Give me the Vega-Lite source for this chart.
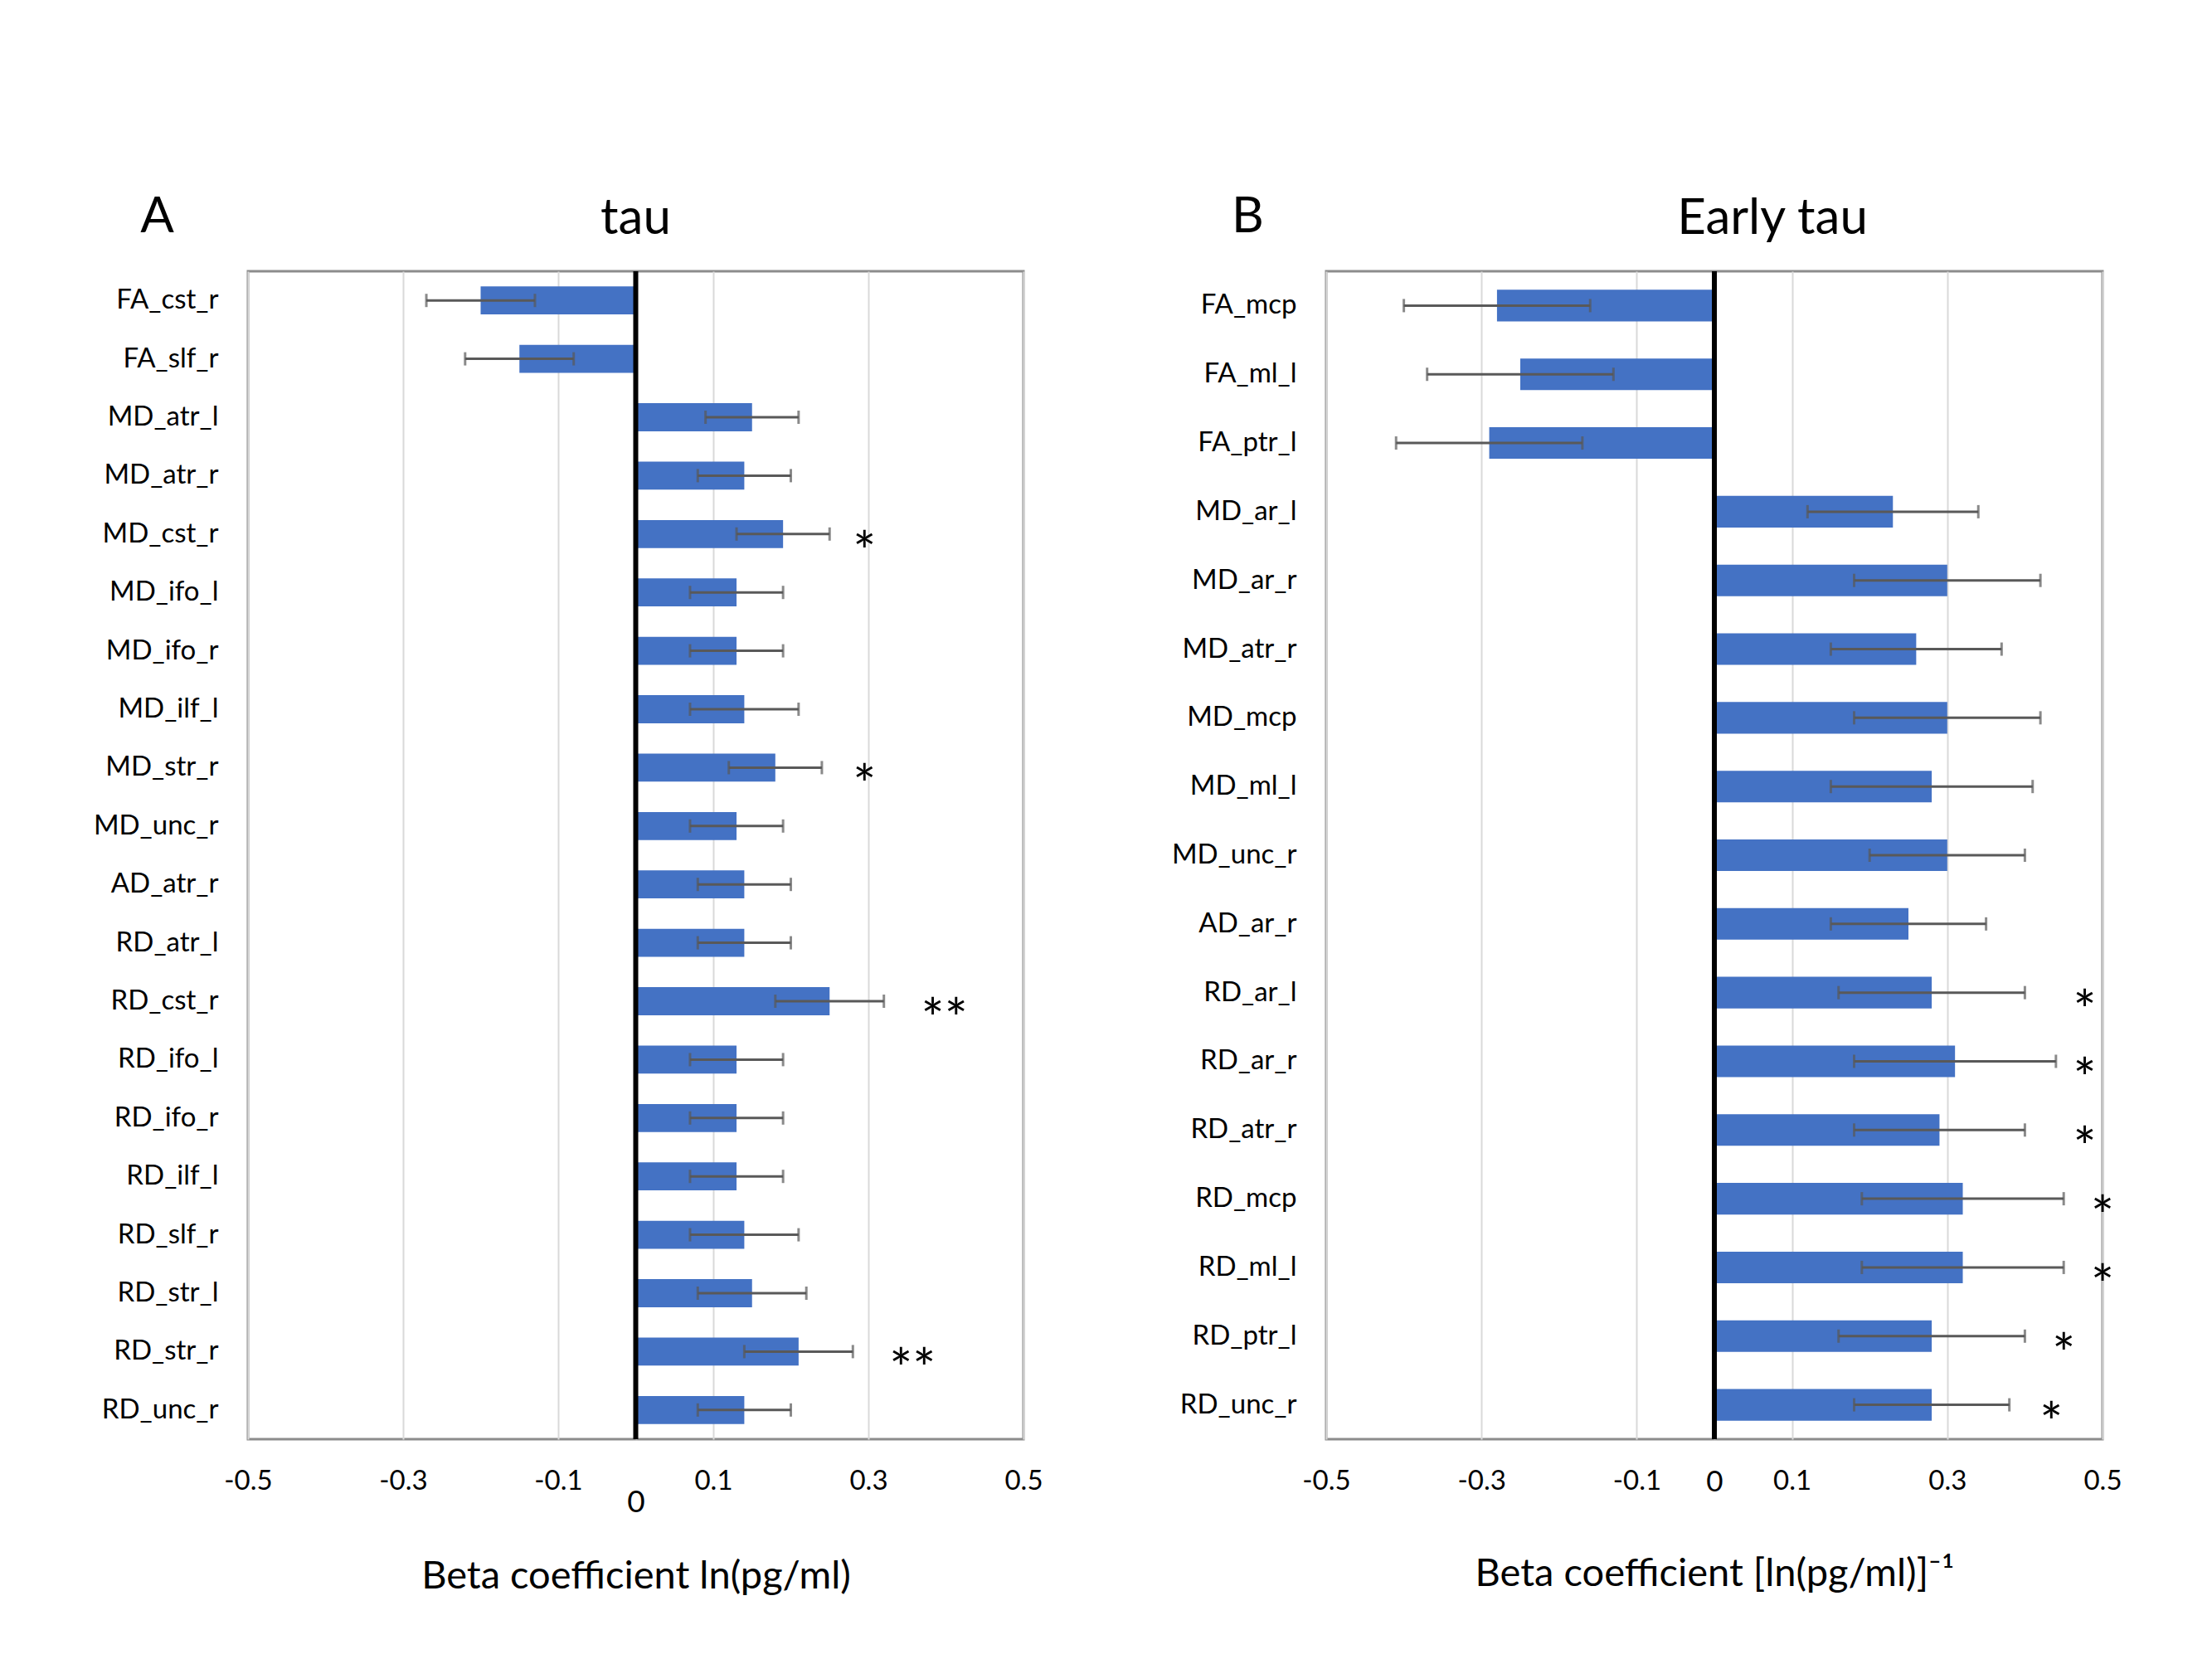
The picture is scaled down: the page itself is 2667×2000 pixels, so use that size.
{
  "$schema": "https://vega.github.io/schema/vega-lite/v6.json",
  "background": "white",
  "padding": {"left": 110, "top": 229, "right": 80, "bottom": 40},
  "config": {
    "font": "Lato",
    "view": {"stroke": "#8C8C8C", "strokeWidth": 3},
    "axis": {"labelFont": "Lato", "titleFont": "Lato", "labelColor": "#000000", "titleColor": "#000000", "titleFontWeight": "normal"},
    "title": {"font": "Lato", "fontSize": 60, "fontWeight": "normal", "color": "#000000"}
  },
  "datasets": {
    "tau": [
      {"tract": "FA_cst_r", "beta": -0.20, "lo": -0.27, "hi": -0.13, "sig": "", "star_x": null},
      {"tract": "FA_slf_r", "beta": -0.15, "lo": -0.22, "hi": -0.08, "sig": "", "star_x": null},
      {"tract": "MD_atr_l", "beta": 0.15, "lo": 0.09, "hi": 0.21, "sig": "", "star_x": null},
      {"tract": "MD_atr_r", "beta": 0.14, "lo": 0.08, "hi": 0.20, "sig": "", "star_x": null},
      {"tract": "MD_cst_r", "beta": 0.19, "lo": 0.13, "hi": 0.25, "sig": "*", "star_x": 0.295},
      {"tract": "MD_ifo_l", "beta": 0.13, "lo": 0.07, "hi": 0.19, "sig": "", "star_x": null},
      {"tract": "MD_ifo_r", "beta": 0.13, "lo": 0.07, "hi": 0.19, "sig": "", "star_x": null},
      {"tract": "MD_ilf_l", "beta": 0.14, "lo": 0.07, "hi": 0.21, "sig": "", "star_x": null},
      {"tract": "MD_str_r", "beta": 0.18, "lo": 0.12, "hi": 0.24, "sig": "*", "star_x": 0.295},
      {"tract": "MD_unc_r", "beta": 0.13, "lo": 0.07, "hi": 0.19, "sig": "", "star_x": null},
      {"tract": "AD_atr_r", "beta": 0.14, "lo": 0.08, "hi": 0.20, "sig": "", "star_x": null},
      {"tract": "RD_atr_l", "beta": 0.14, "lo": 0.08, "hi": 0.20, "sig": "", "star_x": null},
      {"tract": "RD_cst_r", "beta": 0.25, "lo": 0.18, "hi": 0.32, "sig": "**", "star_x": 0.398},
      {"tract": "RD_ifo_l", "beta": 0.13, "lo": 0.07, "hi": 0.19, "sig": "", "star_x": null},
      {"tract": "RD_ifo_r", "beta": 0.13, "lo": 0.07, "hi": 0.19, "sig": "", "star_x": null},
      {"tract": "RD_ilf_l", "beta": 0.13, "lo": 0.07, "hi": 0.19, "sig": "", "star_x": null},
      {"tract": "RD_slf_r", "beta": 0.14, "lo": 0.07, "hi": 0.21, "sig": "", "star_x": null},
      {"tract": "RD_str_l", "beta": 0.15, "lo": 0.08, "hi": 0.22, "sig": "", "star_x": null},
      {"tract": "RD_str_r", "beta": 0.21, "lo": 0.14, "hi": 0.28, "sig": "**", "star_x": 0.357},
      {"tract": "RD_unc_r", "beta": 0.14, "lo": 0.08, "hi": 0.20, "sig": "", "star_x": null}
    ],
    "early": [
      {"tract": "FA_mcp", "beta": -0.28, "lo": -0.40, "hi": -0.16, "sig": "", "star_x": null},
      {"tract": "FA_ml_l", "beta": -0.25, "lo": -0.37, "hi": -0.13, "sig": "", "star_x": null},
      {"tract": "FA_ptr_l", "beta": -0.29, "lo": -0.41, "hi": -0.17, "sig": "", "star_x": null},
      {"tract": "MD_ar_l", "beta": 0.23, "lo": 0.12, "hi": 0.34, "sig": "", "star_x": null},
      {"tract": "MD_ar_r", "beta": 0.30, "lo": 0.18, "hi": 0.42, "sig": "", "star_x": null},
      {"tract": "MD_atr_r", "beta": 0.26, "lo": 0.15, "hi": 0.37, "sig": "", "star_x": null},
      {"tract": "MD_mcp", "beta": 0.30, "lo": 0.18, "hi": 0.42, "sig": "", "star_x": null},
      {"tract": "MD_ml_l", "beta": 0.28, "lo": 0.15, "hi": 0.41, "sig": "", "star_x": null},
      {"tract": "MD_unc_r", "beta": 0.30, "lo": 0.20, "hi": 0.40, "sig": "", "star_x": null},
      {"tract": "AD_ar_r", "beta": 0.25, "lo": 0.15, "hi": 0.35, "sig": "", "star_x": null},
      {"tract": "RD_ar_l", "beta": 0.28, "lo": 0.16, "hi": 0.40, "sig": "*", "star_x": 0.477},
      {"tract": "RD_ar_r", "beta": 0.31, "lo": 0.18, "hi": 0.44, "sig": "*", "star_x": 0.477},
      {"tract": "RD_atr_r", "beta": 0.29, "lo": 0.18, "hi": 0.40, "sig": "*", "star_x": 0.477},
      {"tract": "RD_mcp", "beta": 0.32, "lo": 0.19, "hi": 0.45, "sig": "*", "star_x": 0.50},
      {"tract": "RD_ml_l", "beta": 0.32, "lo": 0.19, "hi": 0.45, "sig": "*", "star_x": 0.50},
      {"tract": "RD_ptr_l", "beta": 0.28, "lo": 0.16, "hi": 0.40, "sig": "*", "star_x": 0.45},
      {"tract": "RD_unc_r", "beta": 0.28, "lo": 0.18, "hi": 0.38, "sig": "*", "star_x": 0.434}
    ]
  },
  "spacing": 151,
  "hconcat": [
    {
      "width": 935,
      "height": 1408,
      "title": {"text": "tau", "offset": 40, "dy": 104},
      "data": {"name": "tau"},
      "layer": [
        {
          "mark": {"type": "bar", "color": "#4472C4"},
          "encoding": {
            "y": {"field": "tract", "type": "nominal", "sort": null,
              "scale": {"paddingInner": 0.52, "paddingOuter": 0.26},
              "axis": {"title": "A", "titleAngle": 0, "titleX": -110, "titleY": -66, "titleAlign": "center", "titleBaseline": "middle", "titleFontSize": 60, "labelFontSize": 33, "labelPadding": 36, "ticks": false, "domain": false, "grid": false}},
            "x": {"field": "beta", "type": "quantitative",
              "scale": {"domain": [-0.5, 0.5], "nice": false, "zero": false},
              "axis": {"title": "Beta coefficient ln(pg/ml)", "titleFontSize": 47, "titlePadding": 48,
                "values": [-0.5, -0.3, -0.1, 0, 0.1, 0.3, 0.5],
                "labelExpr": "datum.value == 0 ? '0' : (datum.value < 0 ? '-' + format(-datum.value, '.1f') : format(datum.value, '.1f'))",
                "labelFontSize": {"condition": {"test": "datum.value == 0", "value": 37}, "value": 33},
                "labelFlush": false,
                "labelPadding": {"condition": {"test": "datum.value == 0", "value": 58}, "value": 34},
                "ticks": false, "domain": false, "grid": true, "gridColor": "#D9D9D9", "gridWidth": 2}}
          }
        },
        {
          "mark": {"type": "rule", "color": "#595959", "strokeWidth": 3},
          "encoding": {
            "y": {"field": "tract", "type": "nominal", "sort": null},
            "x": {"field": "lo", "type": "quantitative"},
            "x2": {"field": "hi"}
          }
        },
        {
          "mark": {"type": "tick", "color": "#595959", "thickness": 3, "size": 16},
          "encoding": {
            "y": {"field": "tract", "type": "nominal", "sort": null},
            "x": {"field": "lo", "type": "quantitative"}
          }
        },
        {
          "mark": {"type": "tick", "color": "#595959", "thickness": 3, "size": 16},
          "encoding": {
            "y": {"field": "tract", "type": "nominal", "sort": null},
            "x": {"field": "hi", "type": "quantitative"}
          }
        },
        {
          "transform": [{"filter": "datum.sig != ''"}],
          "mark": {"type": "text", "fontSize": 66, "dy": 25, "color": "#000000", "font": "Lato"},
          "encoding": {
            "y": {"field": "tract", "type": "nominal", "sort": null},
            "x": {"field": "star_x", "type": "quantitative"},
            "text": {"field": "sig"}
          }
        },
        {
          "data": {"values": [{}]},
          "mark": {"type": "rule", "color": "#000000", "strokeWidth": 6},
          "encoding": {"x": {"datum": 0}}
        }
      ]
    },
    {
      "width": 936,
      "height": 1408,
      "title": {"text": "Early tau", "offset": 40, "dy": 104, "dx": 70},
      "data": {"name": "early"},
      "layer": [
        {
          "mark": {"type": "bar", "color": "#4472C4"},
          "encoding": {
            "y": {"field": "tract", "type": "nominal", "sort": null,
              "scale": {"paddingInner": 0.54, "paddingOuter": 0.27},
              "axis": {"title": "B", "titleAngle": 0, "titleX": -95, "titleY": -66, "titleAlign": "center", "titleBaseline": "middle", "titleFontSize": 60, "labelFontSize": 33, "labelPadding": 36, "ticks": false, "domain": false, "grid": false}},
            "x": {"field": "beta", "type": "quantitative",
              "scale": {"domain": [-0.5, 0.5], "nice": false, "zero": false},
              "axis": {"title": "Beta coefficient [ln(pg/ml)]⁻¹", "titleFontSize": 47, "titlePadding": 70,
                "values": [-0.5, -0.3, -0.1, 0, 0.1, 0.3, 0.5],
                "labelExpr": "datum.value == 0 ? '0' : (datum.value < 0 ? '-' + format(-datum.value, '.1f') : format(datum.value, '.1f'))",
                "labelFontSize": {"condition": {"test": "datum.value == 0", "value": 35}, "value": 33},
                "labelPadding": 34, "labelFlush": false,
                "ticks": false, "domain": false, "grid": true, "gridColor": "#D9D9D9", "gridWidth": 2}}
          }
        },
        {
          "mark": {"type": "rule", "color": "#595959", "strokeWidth": 3},
          "encoding": {
            "y": {"field": "tract", "type": "nominal", "sort": null},
            "x": {"field": "lo", "type": "quantitative"},
            "x2": {"field": "hi"}
          }
        },
        {
          "mark": {"type": "tick", "color": "#595959", "thickness": 3, "size": 16},
          "encoding": {
            "y": {"field": "tract", "type": "nominal", "sort": null},
            "x": {"field": "lo", "type": "quantitative"}
          }
        },
        {
          "mark": {"type": "tick", "color": "#595959", "thickness": 3, "size": 16},
          "encoding": {
            "y": {"field": "tract", "type": "nominal", "sort": null},
            "x": {"field": "hi", "type": "quantitative"}
          }
        },
        {
          "transform": [{"filter": "datum.sig != ''"}],
          "mark": {"type": "text", "fontSize": 66, "dy": 25, "color": "#000000", "font": "Lato"},
          "encoding": {
            "y": {"field": "tract", "type": "nominal", "sort": null},
            "x": {"field": "star_x", "type": "quantitative"},
            "text": {"field": "sig"}
          }
        },
        {
          "data": {"values": [{}]},
          "mark": {"type": "rule", "color": "#000000", "strokeWidth": 6},
          "encoding": {"x": {"datum": 0}}
        }
      ]
    }
  ]
}
